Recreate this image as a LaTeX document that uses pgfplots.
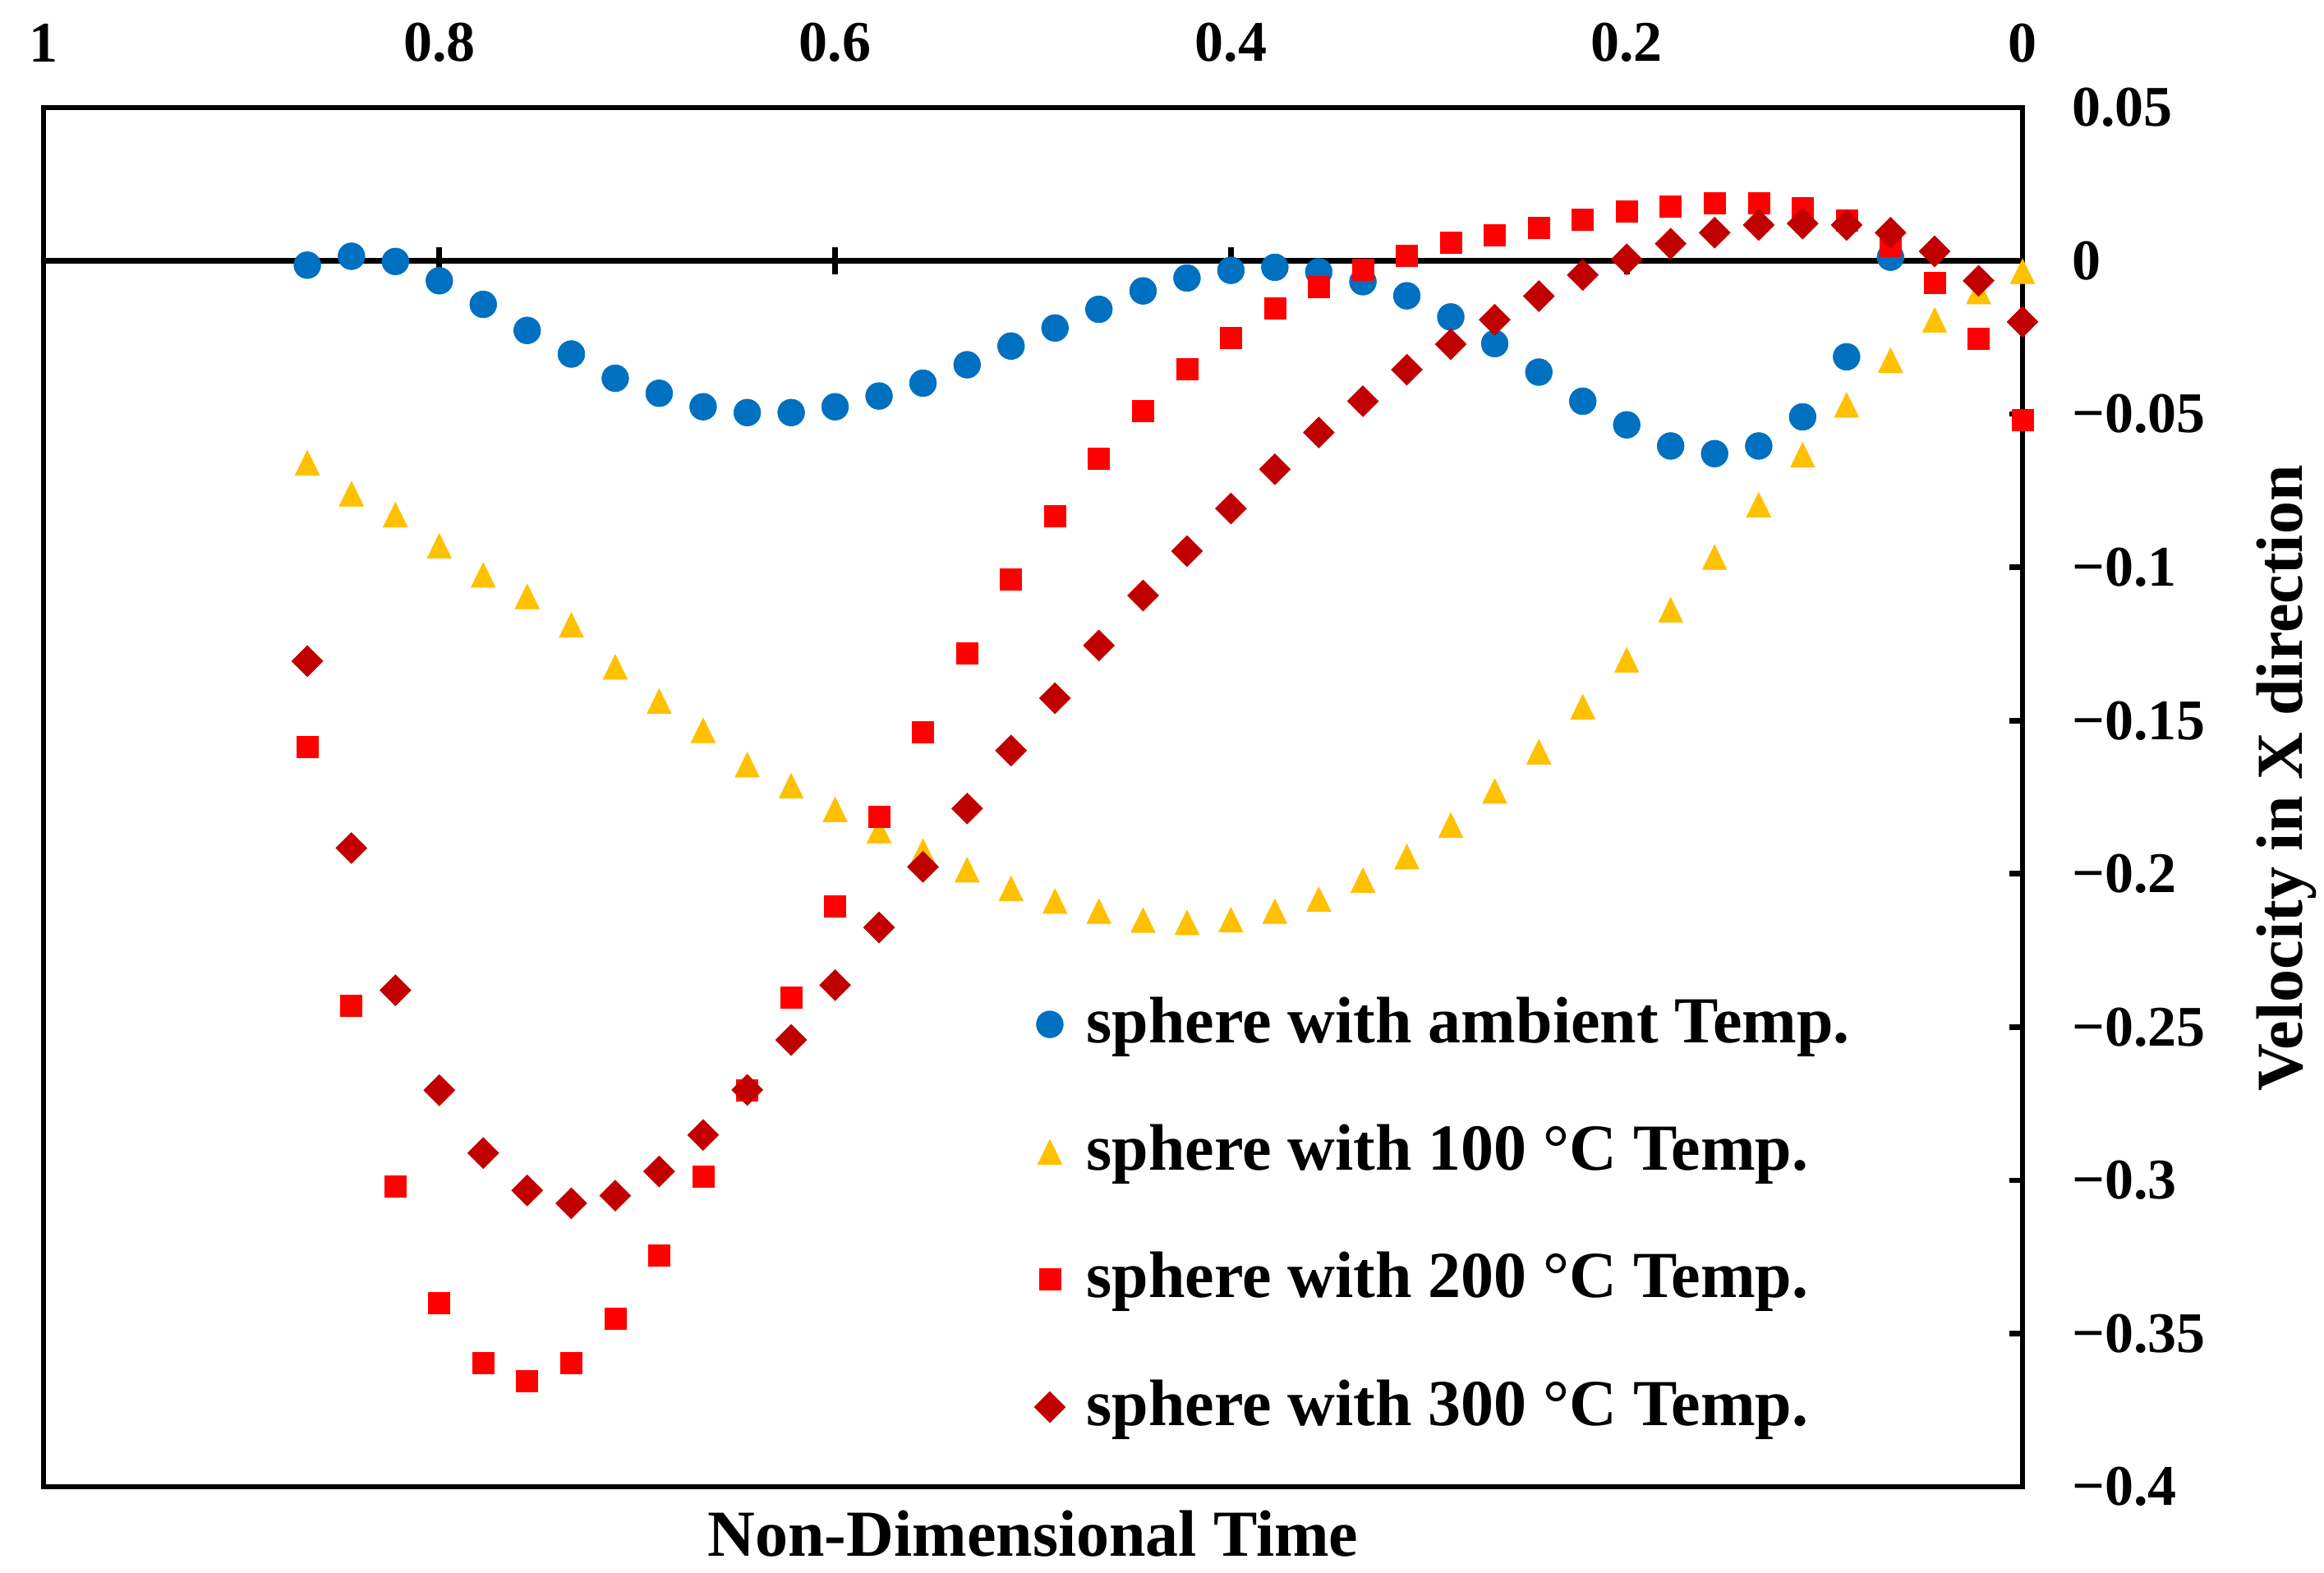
\documentclass[border=0pt]{standalone}
\usepackage{fontspec}
\setmainfont{Liberation Serif}
\usepackage{pgfplots}
\pgfplotsset{compat=1.18}
\usepackage{pgfplotstable}
\definecolor{cblue}{HTML}{0070C0}
\definecolor{corange}{HTML}{FFC000}
\definecolor{cred}{HTML}{FF0000}
\definecolor{cdred}{HTML}{C00000}

\pgfplotstableread{
x y
0.0667 0.0012
0.0889 -0.0313
0.1111 -0.0509
0.1333 -0.0604
0.1556 -0.0629
0.1778 -0.0604
0.2000 -0.0535
0.2222 -0.0458
0.2444 -0.0363
0.2667 -0.0270
0.2889 -0.0183
0.3111 -0.0114
0.3333 -0.0068
0.3556 -0.0036
0.3778 -0.0021
0.4000 -0.0031
0.4222 -0.0056
0.4444 -0.0098
0.4667 -0.0158
0.4889 -0.0219
0.5111 -0.0278
0.5333 -0.0339
0.5556 -0.0399
0.5778 -0.0441
0.6000 -0.0476
0.6222 -0.0495
0.6444 -0.0495
0.6667 -0.0476
0.6889 -0.0432
0.7111 -0.0383
0.7333 -0.0304
0.7556 -0.0227
0.7778 -0.0142
0.8000 -0.0065
0.8222 -0.0002
0.8444 0.0015
0.8667 -0.0014
}\ambient

\pgfplotstableread{
x y
0.0000 -0.0034
0.0222 -0.0100
0.0444 -0.0193
0.0667 -0.0324
0.0889 -0.0470
0.1111 -0.0633
0.1333 -0.0796
0.1556 -0.0967
0.1778 -0.1139
0.2000 -0.1302
0.2222 -0.1455
0.2444 -0.1602
0.2667 -0.1730
0.2889 -0.1841
0.3111 -0.1944
0.3333 -0.2021
0.3556 -0.2083
0.3778 -0.2122
0.4000 -0.2150
0.4222 -0.2159
0.4444 -0.2151
0.4667 -0.2122
0.4889 -0.2089
0.5111 -0.2048
0.5333 -0.1987
0.5556 -0.1926
0.5778 -0.1860
0.6000 -0.1790
0.6222 -0.1713
0.6444 -0.1644
0.6667 -0.1532
0.6889 -0.1437
0.7111 -0.1325
0.7333 -0.1188
0.7556 -0.1095
0.7778 -0.1025
0.8000 -0.0930
0.8222 -0.0828
0.8444 -0.0760
0.8667 -0.0659
}\tcent

\pgfplotstableread{
x y
0.0000 -0.0519
0.0222 -0.0253
0.0444 -0.0071
0.0667 0.0049
0.0889 0.0133
0.1111 0.0173
0.1333 0.0187
0.1556 0.0187
0.1778 0.0177
0.2000 0.0161
0.2222 0.0135
0.2444 0.0109
0.2667 0.0085
0.2889 0.0059
0.3111 0.0017
0.3333 -0.0028
0.3556 -0.0085
0.3778 -0.0155
0.4000 -0.0251
0.4222 -0.0354
0.4444 -0.0490
0.4667 -0.0645
0.4889 -0.0834
0.5111 -0.1040
0.5333 -0.1281
0.5556 -0.1537
0.5778 -0.1813
0.6000 -0.2105
0.6222 -0.2403
0.6444 -0.2705
0.6667 -0.2987
0.6889 -0.3245
0.7111 -0.3452
0.7333 -0.3596
0.7556 -0.3656
0.7778 -0.3596
0.8000 -0.3400
0.8222 -0.3021
0.8444 -0.2431
0.8667 -0.1587
}\ttwo

\pgfplotstableread{
x y
0.0000 -0.0199
0.0222 -0.0065
0.0444 0.0031
0.0667 0.0092
0.0889 0.0117
0.1111 0.0122
0.1333 0.0117
0.1556 0.0092
0.1778 0.0056
0.2000 0.0005
0.2222 -0.0046
0.2444 -0.0115
0.2667 -0.0192
0.2889 -0.0272
0.3111 -0.0355
0.3333 -0.0458
0.3556 -0.0560
0.3778 -0.0680
0.4000 -0.0808
0.4222 -0.0947
0.4444 -0.1092
0.4667 -0.1255
0.4889 -0.1427
0.5111 -0.1598
0.5333 -0.1787
0.5556 -0.1977
0.5778 -0.2175
0.6000 -0.2363
0.6222 -0.2542
0.6444 -0.2705
0.6667 -0.2852
0.6889 -0.2971
0.7111 -0.3050
0.7333 -0.3075
0.7556 -0.3033
0.7778 -0.2911
0.8000 -0.2706
0.8222 -0.2380
0.8444 -0.1916
0.8667 -0.1306
}\tthree

\pgfplotsset{
  mylegimg/.style={legend image code/.code={%
    \draw[##1] plot coordinates {(0pt,0pt)};
    \pgfpathrectangle{\pgfpoint{-3pt}{-6pt}}{\pgfpoint{9.7pt}{12pt}}%
    \pgfusepath{discard}%
    \pgfpathmoveto{\pgfpoint{-3pt}{-6pt}}\pgfusepath{discard}}},
}

\begin{document}
\begin{tikzpicture}
\begin{axis}[
  scale only axis,
  width=361.35pt, height=251.85pt,
  xmin=0, xmax=1, ymin=-0.4, ymax=0.05,
  x dir=reverse,
  clip=false,
  axis line style={line width=1pt, black},
  xtick={0,0.2,0.4,0.6,0.8,1},
  xticklabels={0,0.2,0.4,0.6,0.8,1},
  xticklabel pos=right,
  xtick style={draw=none},
  xticklabel style={anchor=south, inner sep=0pt, yshift=8.1pt, font=\bfseries\fontsize{10.5}{12}\selectfont},
  ytick={-0.4,-0.35,-0.3,-0.25,-0.2,-0.15,-0.1,-0.05,0,0.05},
  yticklabels={−0.4,−0.35,−0.3,−0.25,−0.2,−0.15,−0.1,−0.05,0,0.05},
  ytick pos=right, yticklabel pos=right,
  ytick align=inside,
  major tick length=2.4pt,
  ytick style={line width=1pt, black},
  yticklabel style={anchor=west, inner sep=0pt, xshift=8.85pt, font=\bfseries\fontsize{10.5}{12}\selectfont},
  xlabel={Non-Dimensional Time},
  ylabel={Velocity in X direction},
  every axis x label/.style={at={([yshift=-8.55pt]axis description cs:0.5,0)}, anchor=center, inner sep=0pt, font=\bfseries\fontsize{12}{14}\selectfont},
  every axis y label/.style={at={([xshift=48.15pt,yshift=3.45pt]axis description cs:1,0.5)}, rotate=90, anchor=center, inner sep=0pt, font=\bfseries\fontsize{12}{14}\selectfont},
  legend style={at={(axis description cs:0.5002,0.3603)}, anchor=north west, draw=none, fill=none,
    inner sep=0pt, outer sep=0pt, row sep=10.7pt, column sep=0pt,
    font=\bfseries\fontsize{12}{14}\selectfont,
    nodes={inner sep=0pt, text height=9.6pt, text depth=3pt, anchor=west}},
]
\draw[line width=1pt, black] (axis cs:1,0) -- (axis cs:0,0);
\pgfplotsinvokeforeach{0.2,0.4,0.6,0.8}{
  \draw[line width=1pt, black] ([yshift=-2.5pt]axis cs:#1,0) -- ([yshift=2.5pt]axis cs:#1,0);
}
\coordinate (bl) at (axis description cs:0,0);
\coordinate (tr) at (axis description cs:1,1);

\addplot[only marks, mark=*, mark size=2.45pt, color=cblue,
  mark options={fill=cblue, draw=cblue, line width=0.1pt}, mylegimg] table {\ambient};
\addlegendentry{sphere with ambient Temp.}
\addplot[only marks, mark=triangle*, mark size=2.55pt, color=corange,
  mark options={yshift=-0.75pt, yscale=1.18, fill=corange, draw=corange, line width=0.1pt}, mylegimg] table {\tcent};
\addlegendentry{sphere with 100 °C Temp.}
\addplot[only marks, mark=square*, mark size=1.95pt, color=cred,
  mark options={fill=cred, draw=cred, line width=0.1pt}, mylegimg] table {\ttwo};
\addlegendentry{sphere with 200 °C Temp.}
\addplot[only marks, mark=square*, mark size=2.0pt, color=cdred,
  mark options={rotate=45, fill=cdred, draw=cdred, line width=0.1pt}, mylegimg] table {\tthree};
\addlegendentry{sphere with 300 °C Temp.}
\end{axis}
\pgfresetboundingbox
\path ([xshift=-7.95pt,yshift=-15.6pt]bl) rectangle ([xshift=55.05pt,yshift=19.65pt]tr);
\end{tikzpicture}
\end{document}
